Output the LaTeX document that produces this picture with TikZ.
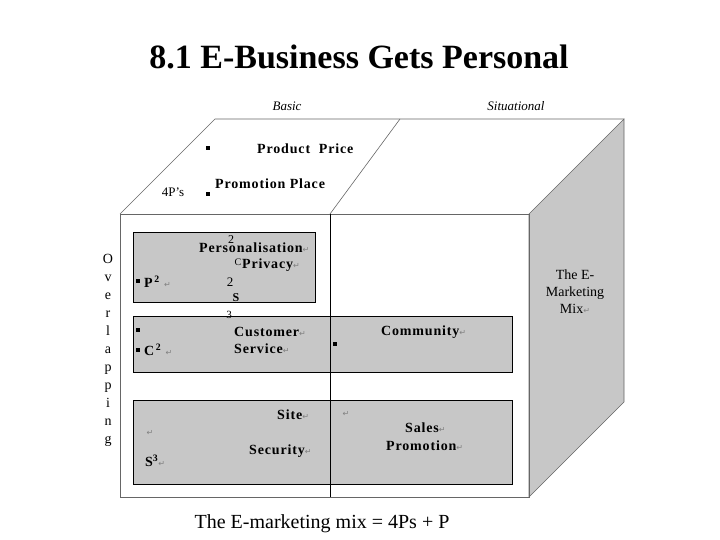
\documentclass[tikz,border=0pt]{standalone}
\usepackage{fontspec}
\setmainfont{Liberation Serif}
\newfontfamily\lb[LetterSpace=6]{Liberation Serif}
\newfontfamily\dv{DejaVu Sans}
\newcommand{\rt}{{\dv\mdseries\color{gray}\fontsize{8}{8}\selectfont ↵}}
\begin{document}
\begin{tikzpicture}[x=1pt,y=-1pt,
  lbl/.style={font=\lb\bfseries\fontsize{14}{15}\selectfont, inner sep=0pt, anchor=west},
  ret/.style={font=\dv\fontsize{8}{8}\selectfont, text=gray, inner sep=0pt},
  gbox/.style={draw=black, fill=black!22, line width=0.7pt},
  bul/.style={fill=black, minimum size=4pt, inner sep=0pt}]
\useasboundingbox (0,0) rectangle (720,540);
\node (title) at (359,57) {\fontsize{34}{38}\selectfont\bfseries 8.1 E-Business Gets Personal};
% cube
\path[fill=black!22, draw=black!60, line width=0.6pt] (529,214) -- (624,119) -- (624,402) -- (529,497) -- cycle;
\draw[black!60, line width=0.6pt] (120,214) -- (215,119) -- (624,119);
\draw[black!60, line width=0.6pt] (330,214) -- (400,119);
\draw[black!60, line width=0.6pt] (120,214) rectangle (529,497);
\draw[gbox] (133,232) rectangle (315,302);
\draw[gbox] (133,316) rectangle (512,372);
\draw[gbox] (133,400) rectangle (512,484);
\draw[black, line width=0.8pt] (330,214) -- (330,497);
% top face
\node (basic) at (287,106) {\itshape\fontsize{13}{14}\selectfont Basic};
\node (sit) at (516,106) {\itshape\fontsize{13}{14}\selectfont Situational};
\node[bul] (b1) at (208,148) {};
\node[lbl] (pp) at (257,149) {Product\ \ Price};
\node[inner sep=0pt] (fourp) at (173,192) {\fontsize{13}{14}\selectfont 4P's};
\node[bul] (b2) at (208,194) {};
\node[lbl] (pp2) at (215,184) {Promotion Place};
% box 1
\node[lbl] (pers) at (199,248) {Personalisation\rt};
\node[lbl] (priv) at (242,265) {Privacy\rt};
\node[font=\fontsize{12}{12}\selectfont, inner sep=0pt] at (231,240) {2};
\node[font=\fontsize{10}{10}\selectfont, inner sep=0pt] at (238,262) {C};
\node[font=\fontsize{13}{13}\selectfont, inner sep=0pt] at (230,282) {2};
\node[font=\bfseries\fontsize{12}{12}\selectfont, inner sep=0pt] at (236,298) {S};
\node[font=\fontsize{11}{11}\selectfont, inner sep=0pt] at (229,315) {3};
\node[bul] at (138,281) {};
\node[lbl] (p2) at (144,282) {P\textsuperscript{\,2}\ \rt};
% box 2
\node[bul] at (138,330) {};
\node[bul] at (138,350) {};
\node[lbl] (c2) at (144,350) {C\textsuperscript{\,2}\ \rt};
\node[lbl] (cs1) at (234,332) {Customer\rt};
\node[lbl] (cs2) at (234,349) {Service\rt};
\node[bul] at (335,344) {};
\node[lbl] (comm) at (381,332) {Community\rt};
% box 3
\node[lbl] (site) at (277,415) {Site\rt};
\node[lbl] (sec) at (249,451) {Security\rt};
\node[ret] at (150,433) {↵};
\node[lbl] (s3) at (145,461) {S\textsuperscript{3}\rt};
\node[ret] at (346,414) {↵};
\node[lbl] (sales) at (405,428) {Sales\rt};
\node[lbl] (promo) at (386,446) {Promotion\rt};
% right face
\node[align=center, font=\fontsize{14}{17}\selectfont] (mix) at (575,292) {The E-\\Marketing\\Mix\rt};
% overlapping
\node[align=center, font=\fontsize{14}{18}\selectfont, inner sep=0pt] (ovl) at (108,350) {O\\v\\e\\r\\l\\a\\p\\p\\i\\n\\g};
\node (foot) at (322,524) {\fontsize{20}{22}\selectfont The E-marketing mix = 4Ps + P};
\end{tikzpicture}
\end{document}
